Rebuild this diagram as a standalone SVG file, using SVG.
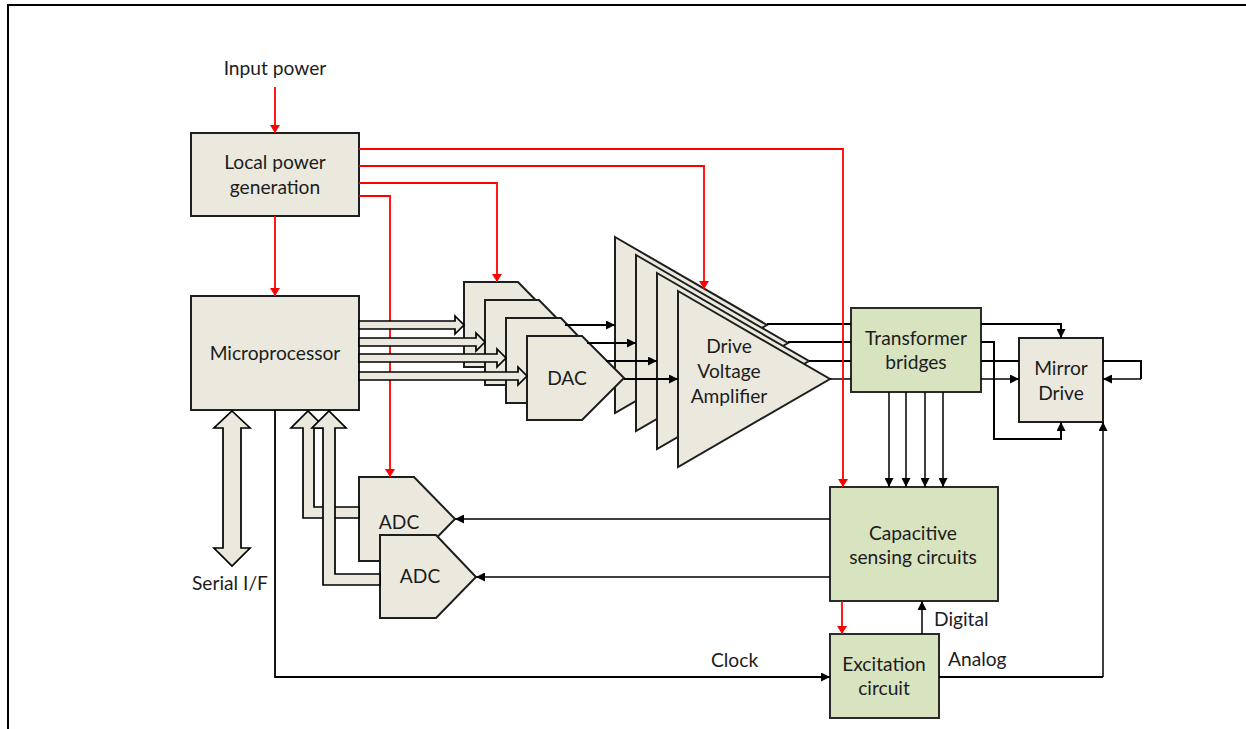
<svg xmlns="http://www.w3.org/2000/svg" width="1246" height="729" viewBox="0 0 1246 729">
<style>
text{font-family:"Lato","Open Sans","Liberation Sans",sans-serif;font-size:19.2px;fill:#1c1c1c;text-anchor:middle}
.l{text-anchor:start}
.n{fill:#ebe9de;stroke:#1e1e1e;stroke-width:2}
.g{fill:#d8e3bf;stroke:#2a2a2a;stroke-width:2}
.s{fill:none;stroke:#000;stroke-width:2}
.t{fill:none;stroke:#000;stroke-width:1.5}
.r{fill:none;stroke:#f00;stroke-width:1.8}
.h{fill:#ebe9de;stroke:#000;stroke-width:1.7}
.a{marker-end:url(#ba)}
.ra{marker-end:url(#ra)}
</style>
<defs>
<marker id="ba" markerUnits="userSpaceOnUse" viewBox="0 0 9 9" refX="9" refY="4.5" markerWidth="9" markerHeight="9" orient="auto"><path d="M0 0L9 4.5L0 9Z" fill="#000"/></marker>
<marker id="ra" markerUnits="userSpaceOnUse" viewBox="0 0 8 10" refX="8" refY="5" markerWidth="8" markerHeight="10" orient="auto"><path d="M0 0L8 5L0 10Z" fill="#f00"/></marker>
</defs>
<rect width="1246" height="729" fill="#fff"/>
<path d="M8 729V5H1246" fill="none" stroke="#000" stroke-width="2"/>
<g id="input-power"><text x="275" y="75">Input power</text></g>
<g id="local-power"><rect class="n" x="191" y="133" width="168" height="83"/><text x="275" y="169">Local power</text><text x="275" y="194">generation</text></g>
<g id="microprocessor"><rect class="n" x="191" y="296" width="168" height="114"/><text x="275" y="360">Microprocessor</text></g>
<g id="amp-1"><polygon class="n" points="615,237 767,325 615,413"/></g>
<g id="amp-2"><polygon class="n" points="636,255 788,343 636,431"/></g>
<g id="amp-3"><polygon class="n" points="657,273 809,361 657,449"/></g>
<g id="amp-4"><polygon class="n" points="678,291 830,379 678,467"/><text x="729" y="353">Drive</text><text x="729" y="378">Voltage</text><text x="729" y="403">Amplifier</text></g>
<g id="dac-1"><polygon class="n" points="464,282 518,282 560,325 518,367 464,367"/></g>
<g id="dac-2"><polygon class="n" points="485,300 539,300 581,343 539,385 485,385"/></g>
<g id="dac-3"><polygon class="n" points="506,318 561,318 602,361 561,403 506,403"/></g>
<g id="dac-4"><polygon class="n" points="527,336 582,336 624,378 582,420 527,420"/><text x="567" y="385">DAC</text></g>
<g id="adc-1"><polygon class="n" points="359,477 414,477 455,519 414,561 359,561"/><text x="399" y="529">ADC</text></g>
<g id="adc-2"><polygon class="n" points="380,535 436,535 476,577 436,618 380,618"/><text x="420" y="583">ADC</text></g>
<g id="serial-if"><text x="230" y="590">Serial I/F</text></g>
<g id="transformer"><rect class="g" x="851" y="308" width="130" height="84"/><text x="916" y="345">Transformer</text><text x="916" y="369">bridges</text></g>
<g id="mirror-drive"><rect class="n" x="1019" y="338" width="84" height="84"/><text x="1061" y="375">Mirror</text><text x="1061" y="400">Drive</text></g>
<g id="capacitive"><rect class="g" x="830" y="487" width="168" height="114"/><text x="913" y="540">Capacitive</text><text x="913" y="564">sensing circuits</text></g>
<g id="excitation"><rect class="g" x="830" y="634" width="109" height="84"/><text x="884" y="671">Excitation</text><text x="884" y="695">circuit</text></g>
<g id="labels"><text class="l" x="934" y="626">Digital</text><text class="l" x="948" y="666">Analog</text><text class="l" x="711" y="667">Clock</text></g>
<g id="connectors">
<path class="s a" d="M565 325H615"/>
<path class="s a" d="M587 343H636"/>
<path class="s a" d="M606 361H657"/>
<path class="s a" d="M624 379H678"/>
<path class="s" d="M767 324H851"/>
<path class="s" d="M788 342H851"/>
<path class="s" d="M809 361H851"/>
<path class="t" d="M830 379H851" stroke="#333"/>
<path class="s a" d="M981 324H1061V338"/>
<path class="s a" d="M981 342H994V439H1061V422"/>
<path class="s" d="M981 361H1019"/>
<path class="t a" d="M981 379H1019"/>
<path class="s" d="M1103 361H1141V379"/>
<path class="t a" d="M1141 379H1103"/>
<path class="t a" d="M889 392V487"/>
<path class="t a" d="M906 392V487"/>
<path class="t a" d="M925 392V487"/>
<path class="t a" d="M943 392V487"/>
<path class="t a" d="M830 519H455"/>
<path class="t a" d="M830 577H476"/>
<path class="t a" d="M922 634V601"/>
<path class="s" d="M939 677H1103"/>
<path class="t a" d="M1103 677V422"/>
<path class="t a" d="M275 410V677H830" style="stroke-width:1.8"/>
<path class="r ra" d="M275 87V133"/>
<path class="r ra" d="M275 216V296"/>
<path class="r ra" d="M359 149H843V487"/>
<path class="r ra" d="M359 166H704V289"/>
<path class="r ra" d="M359 183H497V282"/>
<path class="r ra" d="M359 196H390V477"/>
<path class="r ra" d="M842 601V634"/>
<polygon class="h" points="359,321 455,321 455,316 464,325 455,334 455,329 359,329"/>
<polygon class="h" points="359,338 476,338 476,333 485,342 476,351 476,346 359,346"/>
<polygon class="h" points="359,354 497,354 497,349 506,358 497,367 497,362 359,362"/>
<polygon class="h" points="359,372 518,372 518,367 527,376 518,385 518,380 359,380"/>
<polygon class="h" points="232,411 250,428 241,428 241,548 250,548 232,566 214,548 223,548 223,428 214,428"/>
<polygon class="h" points="359,518 303,518 303,428 291,428 308,411 325,428 314,428 314,507 359,507"/>
<polygon class="h" points="380,585 323,585 323,428 312,428 329,411 346,428 335,428 335,574 380,574"/>
</g>
</svg>
